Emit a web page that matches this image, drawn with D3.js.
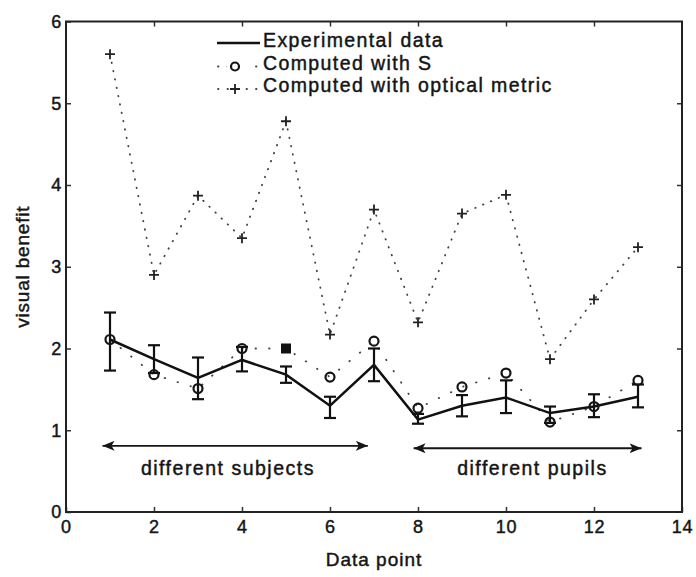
<!DOCTYPE html>
<html>
<head>
<meta charset="utf-8">
<script src="https://cdn.jsdelivr.net/npm/d3@7"></script>
<style>
body { margin: 0; background: #fff; }
text { font-family: "Liberation Sans", Arial, sans-serif; fill: #151515; stroke: #151515; stroke-width: 0.45px; }
</style>
</head>
<body>
<div id="chart"></div>
<script>
// data
var points = [1, 2, 3, 4, 5, 6, 7, 8, 9, 10, 11, 12, 13];
var experimental = [2.11, 1.87, 1.64, 1.86, 1.68, 1.30, 1.80, 1.13, 1.30, 1.40, 1.21, 1.29, 1.41];
var errLow  = [1.73, 1.70, 1.38, 1.72, 1.58, 1.15, 1.60, 1.08, 1.17, 1.21, 1.09, 1.16, 1.28];
var errHigh = [2.44, 2.04, 1.89, 2.02, 1.78, 1.41, 2.00, 1.20, 1.43, 1.61, 1.29, 1.44, 1.56];
var computedS = [2.11, 1.68, 1.51, 2.00, 2.00, 1.65, 2.09, 1.27, 1.53, 1.70, 1.10, 1.29, 1.61];
var opticalMetric = [5.60, 2.90, 3.87, 3.35, 4.78, 2.17, 3.70, 2.32, 3.65, 3.88, 1.87, 2.60, 3.24];
var filledPoint = 5; // S value drawn as a filled square

var xTicks = [0, 2, 4, 6, 8, 10, 12, 14];
var yTicks = [0, 1, 2, 3, 4, 5, 6];
var legendLabels = ["Experimental data", "Computed with S", "Computed with optical metric"];

var groups = [
  { label: "different subjects", from: 0.83, to: 6.86, y: 0.81, textX: 3.68 },
  { label: "different pupils", from: 7.9, to: 13.08, y: 0.78, textX: 10.6 }
];
var groupTextY = 0.45;

var svgWidth = 696;
var svgHeight = 577;
var margin = { top: 21.5, right: 14, bottom: 65, left: 66 };
var width = svgWidth - margin.left - margin.right;
var height = svgHeight - margin.top - margin.bottom;

var svg = d3.select("#chart")
  .append("svg")
  .attr("width", svgWidth)
  .attr("height", svgHeight);

var defs = svg.append("defs");
defs.append("marker")
  .attr("id", "head")
  .attr("viewBox", "0 0 12 10")
  .attr("refX", 12)
  .attr("refY", 5)
  .attr("markerWidth", 12)
  .attr("markerHeight", 10)
  .attr("markerUnits", "userSpaceOnUse")
  .attr("orient", "auto-start-reverse")
  .append("path")
  .attr("d", "M0,0 L12,5 L0,10 L3,5 Z")
  .attr("fill", "#151515");

var chartGroup = svg.append("g")
  .attr("transform", `translate(${margin.left}, ${margin.top})`);

var x = d3.scaleLinear().domain([0, 14]).range([0, width]);
var y = d3.scaleLinear().domain([0, 6]).range([height, 0]);

// axes, ticks pointing inwards
var bottomAxis = d3.axisBottom(x).tickValues(xTicks).tickFormat(d3.format("d"))
  .tickSizeInner(-5).tickSizeOuter(0).tickPadding(8);
var leftAxis = d3.axisLeft(y).tickValues(yTicks).tickFormat(d3.format("d"))
  .tickSizeInner(-5).tickSizeOuter(0).tickPadding(4);
var topAxis = d3.axisTop(x).tickValues(xTicks.slice(1, -1)).tickSizeInner(-5).tickSizeOuter(0).tickFormat("");
var rightAxis = d3.axisRight(y).tickValues(yTicks.slice(1, -1)).tickSizeInner(-5).tickSizeOuter(0).tickFormat("");

function styleAxis(g) {
  g.select(".domain").remove();
  g.selectAll(".tick line").attr("stroke", "#333").attr("stroke-width", 1.5);
  g.selectAll(".tick text")
    .style("font-size", "18px")
    .style("letter-spacing", "0.8px")
    .attr("fill", "#151515");
}

chartGroup.append("g").attr("transform", `translate(0, ${height})`).call(bottomAxis).call(styleAxis);
chartGroup.append("g").call(leftAxis).call(styleAxis);
chartGroup.append("g").call(topAxis).call(styleAxis);
chartGroup.append("g").attr("transform", `translate(${width}, 0)`).call(rightAxis).call(styleAxis);

chartGroup.append("rect")
  .attr("width", width)
  .attr("height", height)
  .attr("fill", "none")
  .attr("stroke", "#222")
  .attr("stroke-width", 2);

var opticalData = points.map((p, i) => ({ x: p, y: opticalMetric[i] }));
var sData = points.map((p, i) => ({ x: p, y: computedS[i] }));
var expData = points.map((p, i) => ({ x: p, y: experimental[i], lo: errLow[i], hi: errHigh[i] }));

var line = d3.line().x(d => x(d.x)).y(d => y(d.y));

// optical metric: dotted line with plus markers
chartGroup.append("path")
  .datum(opticalData)
  .attr("d", line)
  .attr("fill", "none")
  .attr("stroke", "#444")
  .attr("stroke-width", 1.8)
  .attr("stroke-linecap", "round")
  .attr("stroke-dasharray", "0.5,8");

chartGroup.selectAll(".plus")
  .data(opticalData)
  .enter()
  .append("path")
  .attr("class", "plus")
  .attr("transform", d => `translate(${x(d.x)}, ${y(d.y)})`)
  .attr("d", "M-5,0H5M0,-5V5")
  .attr("stroke", "#222")
  .attr("stroke-width", 1.8);

// computed with S
chartGroup.append("path")
  .datum(sData)
  .attr("d", line)
  .attr("fill", "none")
  .attr("stroke", "#444")
  .attr("stroke-width", 1.8)
  .attr("stroke-linecap", "round")
  .attr("stroke-dasharray", "0.5,13");

// experimental line + error bars
chartGroup.append("path")
  .datum(expData)
  .attr("d", line)
  .attr("fill", "none")
  .attr("stroke", "#111")
  .attr("stroke-width", 2.5);

var bars = chartGroup.selectAll(".errbar")
  .data(expData)
  .enter()
  .append("g")
  .attr("class", "errbar")
  .attr("stroke", "#111")
  .attr("stroke-width", 2.2);

bars.append("line")
  .attr("x1", d => x(d.x)).attr("x2", d => x(d.x))
  .attr("y1", d => y(d.lo)).attr("y2", d => y(d.hi));
bars.append("line")
  .attr("x1", d => x(d.x) - 6).attr("x2", d => x(d.x) + 6)
  .attr("y1", d => y(d.lo)).attr("y2", d => y(d.lo));
bars.append("line")
  .attr("x1", d => x(d.x) - 6).attr("x2", d => x(d.x) + 6)
  .attr("y1", d => y(d.hi)).attr("y2", d => y(d.hi));

chartGroup.selectAll(".scircle")
  .data(sData.filter(d => d.x !== filledPoint))
  .enter()
  .append("circle")
  .attr("class", "scircle")
  .attr("cx", d => x(d.x))
  .attr("cy", d => y(d.y))
  .attr("r", 4.5)
  .attr("fill", "none")
  .attr("stroke", "#151515")
  .attr("stroke-width", 2.2);

chartGroup.selectAll(".ssquare")
  .data(sData.filter(d => d.x === filledPoint))
  .enter()
  .append("rect")
  .attr("class", "ssquare")
  .attr("x", d => x(d.x) - 5)
  .attr("y", d => y(d.y) - 5)
  .attr("width", 10)
  .attr("height", 10)
  .attr("fill", "#111");

// group arrows
chartGroup.selectAll(".grouparrow")
  .data(groups)
  .enter()
  .append("line")
  .attr("class", "grouparrow")
  .attr("x1", d => x(d.from)).attr("x2", d => x(d.to))
  .attr("y1", d => y(d.y)).attr("y2", d => y(d.y))
  .attr("stroke", "#151515")
  .attr("stroke-width", 1.8)
  .attr("marker-start", "url(#head)")
  .attr("marker-end", "url(#head)");

chartGroup.selectAll(".grouplabel")
  .data(groups)
  .enter()
  .append("text")
  .attr("class", "grouplabel")
  .attr("x", d => x(d.textX))
  .attr("y", y(groupTextY))
  .attr("text-anchor", "middle")
  .style("font-size", "19.5px")
  .style("letter-spacing", "1.5px")
  .text(d => d.label);

// legend
var legend = svg.append("g").attr("transform", "translate(217, 0)");
var rowY = [47, 69.5, 92];

legend.append("line")
  .attr("x1", 0).attr("x2", 43)
  .attr("y1", rowY[0] - 4).attr("y2", rowY[0] - 4)
  .attr("stroke", "#111").attr("stroke-width", 2.5);

[1, 2].forEach(function(r) {
  legend.append("line")
    .attr("x1", 1).attr("x2", 43)
    .attr("y1", rowY[r] - 3).attr("y2", rowY[r] - 3)
    .attr("stroke", "#444").attr("stroke-width", 1.8)
    .attr("stroke-linecap", "round")
    .attr("stroke-dasharray", "0.5,9");
});

legend.append("rect")
  .attr("x", 10).attr("y", rowY[1] - 10).attr("width", 22).attr("height", 14)
  .attr("fill", "#fff");
legend.append("circle")
  .attr("cx", 18).attr("cy", rowY[1] - 3).attr("r", 4)
  .attr("fill", "none").attr("stroke", "#151515").attr("stroke-width", 2.2);
legend.append("path")
  .attr("transform", `translate(18, ${rowY[2] - 3})`)
  .attr("d", "M-5,0H5M0,-5V5")
  .attr("stroke", "#222").attr("stroke-width", 1.8);

legend.selectAll(".legtext")
  .data(legendLabels)
  .enter()
  .append("text")
  .attr("class", "legtext")
  .attr("x", 46)
  .attr("y", (d, i) => rowY[i])
  .style("font-size", "19.5px")
  .style("letter-spacing", "1.4px")
  .text(d => d);

// axis titles
svg.append("text")
  .attr("transform", `translate(${margin.left + width / 2}, 566)`)
  .attr("text-anchor", "middle")
  .style("font-size", "19px")
  .style("letter-spacing", "1px")
  .text("Data point");

svg.append("text")
  .attr("transform", `translate(29, ${margin.top + y(3)}) rotate(-90)`)
  .attr("text-anchor", "middle")
  .style("font-size", "19px")
  .style("letter-spacing", "0.8px")
  .text("visual benefit");
</script>
</body>
</html>
